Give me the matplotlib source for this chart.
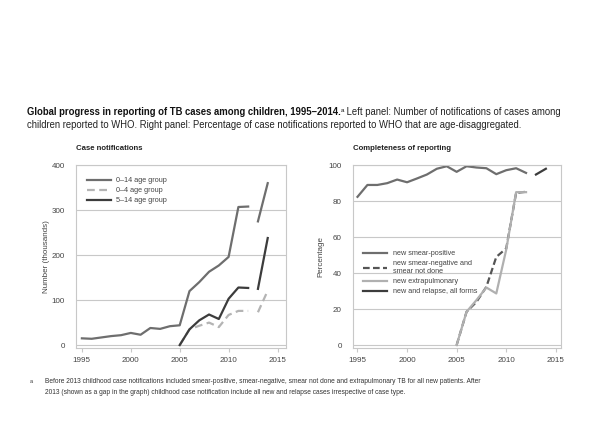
import numpy as np
import matplotlib
matplotlib.use('Agg')
import matplotlib.pyplot as plt

plt.rcParams['font.family'] = ['Liberation Sans', 'DejaVu Sans']

# left panel: notifications (thousands)
years_a = [1995, 1996, 1997, 1998, 1999, 2000, 2001, 2002, 2003, 2004, 2005,
           2006, 2007, 2008, 2009, 2010, 2011, 2012]
age014_a = [15, 14, 17, 20, 22, 27, 23, 38, 36, 42, 44,
            120, 140, 163, 177, 196, 307, 308]
years_b = [2005, 2006, 2007, 2008, 2009, 2010, 2011, 2012]
age04_b = [0, 35, 43, 50, 40, 67, 76, 76]
age514_b = [0, 35, 55, 68, 58, 103, 128, 127]
years_c = [2013, 2014]
age014_c = [275, 360]
age04_c = [73, 121]
age514_c = [125, 238]

# right panel: completeness (%)
smear_pos = [82.4, 89, 89, 90, 92, 90.5, 92.6, 94.8, 98, 99.4, 96.3,
             99.4, 98.7, 98.3, 95, 97.2, 98.3, 95.7]
smear_neg = [0, 18.5, 24, 32.4, 49, 53.7, 84.6, 85.2]
extrapulm = [0, 18.5, 25, 32, 28.7, 53, 85, 85]
new_relapse = [94.8, 98]

grid_c = '#c8c8c8'
tick_c = '#444444'

fig = plt.figure(figsize=(5.94, 4.44), dpi=100)
ax1 = fig.add_axes([0.128, 0.216, 0.354, 0.412])
ax2 = fig.add_axes([0.594, 0.216, 0.350, 0.412])

ax1.plot(years_a, age014_a, color='#6e6e6e', lw=1.6, label='0–14 age group')
ax1.plot(years_b, age04_b, color='#b4b4b4', lw=1.6, ls=(0, (3.5, 2)), label='0–4 age group')
ax1.plot(years_b, age514_b, color='#3c3c3c', lw=1.6, label='5–14 age group')
ax1.plot(years_c, age014_c, color='#6e6e6e', lw=1.6)
ax1.plot(years_c, age04_c, color='#b4b4b4', lw=1.6, ls=(0, (3.5, 2)))
ax1.plot(years_c, age514_c, color='#3c3c3c', lw=1.6)
ax1.set_xlim(1994.4, 2015.9)
ax1.set_ylim(-6.7, 400)
ax1.set_yticks([0, 100, 200, 300, 400])
ax1.set_ylabel('Number (thousands)', fontsize=5.8, color=tick_c, labelpad=1)
ax1.legend(loc='upper left', bbox_to_anchor=(0.02, 0.97), frameon=False,
           fontsize=5.2, handlelength=3.3, labelspacing=0.4, labelcolor=tick_c)

ax2.plot(years_a, smear_pos, color='#6e6e6e', lw=1.6, label='new smear-positive')
ax2.plot(years_b, smear_neg, color='#555555', lw=1.6, ls=(0, (3, 1.5)),
         label='new smear-negative and\nsmear not done')
ax2.plot(years_b, extrapulm, color='#b0b0b0', lw=1.6, label='new extrapulmonary')
ax2.plot(years_c, new_relapse, color='#3c3c3c', lw=1.6, label='new and relapse, all forms')
ax2.set_xlim(1994.53, 2015.5)
ax2.set_ylim(-1.67, 100)
ax2.set_yticks([0, 20, 40, 60, 80, 100])
ax2.set_ylabel('Percentage', fontsize=5.8, color=tick_c, labelpad=3)
ax2.legend(loc='upper left', bbox_to_anchor=(0.02, 0.57), frameon=False,
           fontsize=5.2, handlelength=3.3, labelspacing=0.4, labelcolor=tick_c)

for ax in (ax1, ax2):
    ax.set_xticks([1995, 2000, 2005, 2010, 2015])
    ax.grid(axis='y', color=grid_c, lw=0.8)
    ax.set_axisbelow(True)
    for s in ax.spines.values():
        s.set_color(grid_c)
        s.set_linewidth(0.8)
    ax.tick_params(axis='x', colors=tick_c, labelsize=5.8, length=3, color=grid_c)
    ax.tick_params(axis='y', colors=tick_c, labelsize=5.8, length=0, pad=8)

fig.text(76 / 594, 1 - 148 / 444, 'Case notifications', fontsize=5.6,
         fontweight='bold', color='#222222', va='center')
fig.text(353 / 594, 1 - 148 / 444, 'Completeness of reporting', fontsize=5.6,
         fontweight='bold', color='#222222', va='center')

# title, bold part then regular part
renderer = fig.canvas.get_renderer()
t1 = fig.text(27 / 594, 1 - 112 / 444,
              'Global progress in reporting of TB cases among children, 1995–2014.',
              fontsize=6.85, fontweight='bold', color='#111111', va='center')
bb = t1.get_window_extent(renderer).transformed(fig.transFigure.inverted())
t2 = fig.text(bb.x1, 1 - 110 / 444, 'a', fontsize=4.4, color='#111111', va='center')
bb2 = t2.get_window_extent(renderer).transformed(fig.transFigure.inverted())
fig.text(bb2.x1, 1 - 112 / 444,
         ' Left panel: Number of notifications of cases among',
         fontsize=6.85, color='#222222', va='center')
fig.text(27 / 594, 1 - 125 / 444,
         'children reported to WHO. Right panel: Percentage of case notifications '
         'reported to WHO that are age-disaggregated.',
         fontsize=6.85, color='#222222', va='center')

# footnote
fig.text(30 / 594, 1 - 381 / 444, 'a', fontsize=4, color='#333333', va='center')
fig.text(45 / 594, 1 - 381 / 444,
         'Before 2013 childhood case notifications included smear-positive, smear-negative, '
         'smear not done and extrapulmonary TB for all new patients. After',
         fontsize=4.8, color='#333333', va='center')
fig.text(45 / 594, 1 - 392 / 444,
         '2013 (shown as a gap in the graph) childhood case notification include all new '
         'and relapse cases irrespective of case type.',
         fontsize=4.8, color='#333333', va='center')

fig.savefig('out.png', dpi=100)
